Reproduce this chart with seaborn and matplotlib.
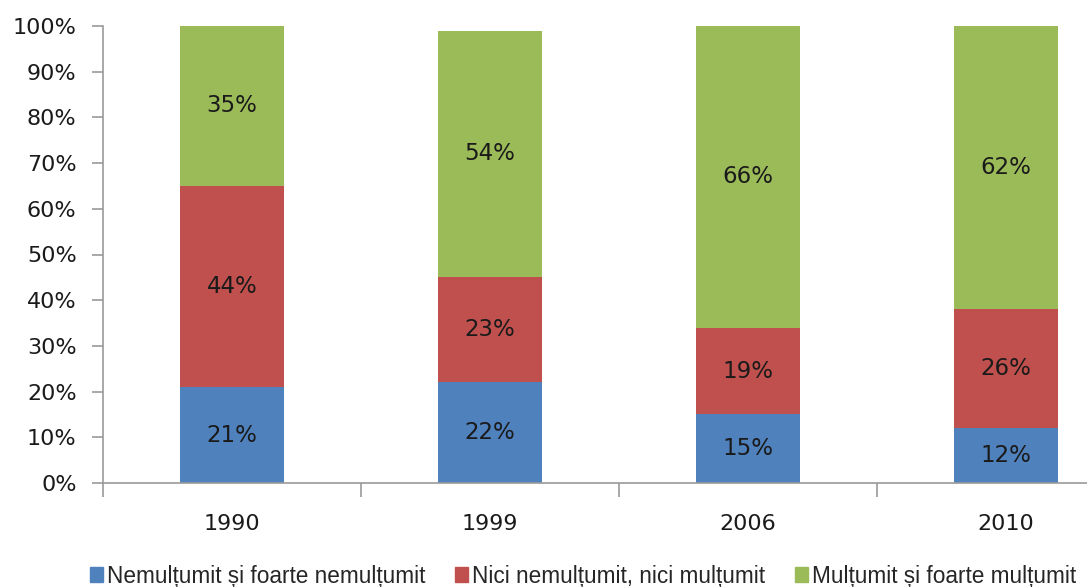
import matplotlib
matplotlib.use("Agg")
import matplotlib.pyplot as plt
import matplotlib.patches as mpatches
from matplotlib.ticker import FixedLocator, PercentFormatter
import seaborn as sns
import pandas as pd
import numpy as np

years = ["1990", "1999", "2006", "2010"]
nemultumit = [21, 22, 15, 12]
nici = [44, 23, 19, 26]
multumit = [35, 54, 66, 62]
series_names = ["Nemulțumit și foarte nemulțumit",
                "Nici nemulțumit, nici mulțumit",
                "Mulțumit și foarte mulțumit"]
colors = ["#4F81BD", "#C0504D", "#9BBB59"]

sns.set_theme(style="white")
plt.rcParams['font.family'] = ['DejaVu Sans']

fig = plt.figure(figsize=(10.87, 5.87), dpi=100)
ax = fig.add_axes([103/1087, (587-483)/587, 1032/1087, (483-26)/587])

vals = [nemultumit, nici, multumit]
cum = np.cumsum(np.array(vals), axis=0)
# draw from top (cumulative) down so stacks appear
for i in range(2, -1, -1):
    d = pd.DataFrame({"year": years, "v": cum[i]})
    sns.barplot(data=d, x="year", y="v", color=colors[i], width=0.4,
                saturation=1, ax=ax, order=years, linewidth=0)

for j in range(len(years)):
    base = 0
    for i in range(3):
        v = vals[i][j]
        ax.text(j, base + v/2, f"{v}%", ha="center", va="center",
                fontsize=16.5, color="#1a1a1a")
        base += v

ax.set_xlim(-0.5, 3.5)
ax.set_ylim(0, 100)
ax.yaxis.set_major_locator(FixedLocator(range(0, 101, 10)))
ax.yaxis.set_major_formatter(PercentFormatter(decimals=0))
ax.set_xlabel("")
ax.set_ylabel("")
for s in ["top", "right"]:
    ax.spines[s].set_visible(False)
for s in ["left", "bottom"]:
    ax.spines[s].set_color("#9a9a9a")
    ax.spines[s].set_linewidth(1.2)
ax.tick_params(axis="y", which="major", left=True, length=8, color="#9a9a9a",
               width=1.2, labelsize=16, labelcolor="#1a1a1a", pad=11)
ax.tick_params(axis="x", which="major", bottom=False, labelsize=16,
               labelcolor="#1a1a1a", pad=16)
ax.xaxis.set_minor_locator(FixedLocator([-0.5, 0.5, 1.5, 2.5, 3.5]))
ax.tick_params(axis="x", which="minor", bottom=True, length=10,
               color="#9a9a9a", width=1.2)

handles = [mpatches.Patch(color=c, label=n) for c, n in zip(colors, series_names)]
fig.legend(handles=handles, loc="center left", bbox_to_anchor=(90/1087, 1 - 576/587),
           ncol=3, frameon=False, handlelength=0.58, handleheight=0.62,
           handletextpad=0.18, columnspacing=1.3, borderaxespad=0, borderpad=0,
           prop={'family': ['Liberation Sans', 'DejaVu Sans'], 'size': 16.3})

fig.savefig("out.png", dpi=100)
